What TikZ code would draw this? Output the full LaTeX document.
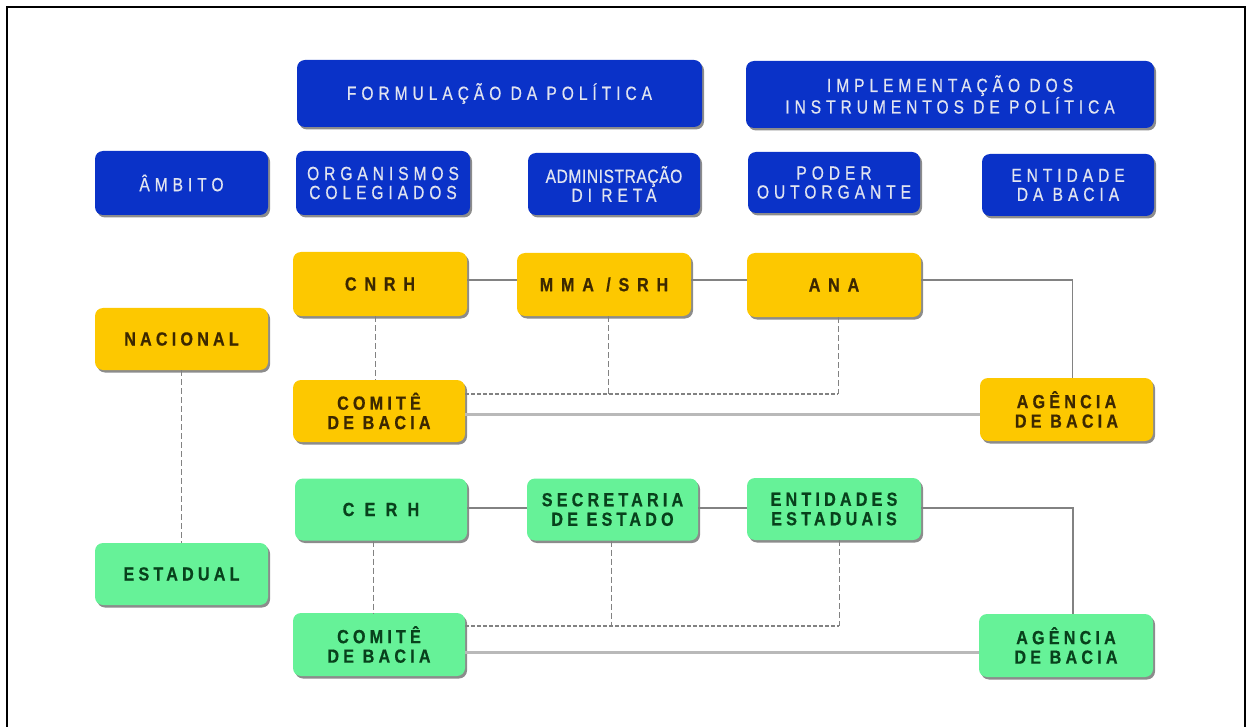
\documentclass[tikz,border=0pt]{standalone}
\usepackage{fontspec}
\setmainfont{Liberation Sans}
\newfontfamily\hdfont[LetterSpace=26,FakeStretch=0.82,FakeBold=0.6]{Liberation Sans}
\newfontfamily\lbfont[LetterSpace=22,FakeStretch=0.85,FakeBold=0.6]{Liberation Sans}
\newfontfamily\widefont[LetterSpace=41,FakeStretch=0.85,FakeBold=0.6]{Liberation Sans}
\newfontfamily\widerfont[LetterSpace=54,FakeStretch=0.85,FakeBold=0.6]{Liberation Sans}
\newfontfamily\admfont[LetterSpace=3,FakeStretch=0.82,FakeBold=0.6]{Liberation Sans}
\usetikzlibrary{shadows}

\definecolor{boxblue}{RGB}{10,50,200}
\definecolor{boxyellow}{RGB}{253,200,0}
\definecolor{boxgreen}{RGB}{102,242,152}
\definecolor{txtblue}{RGB}{225,228,240}
\definecolor{txtyellow}{RGB}{60,40,0}
\definecolor{txtgreen}{RGB}{8,65,28}
\definecolor{lnA}{RGB}{130,130,130}
\definecolor{lnB}{RGB}{185,185,185}

\tikzset{
  box/.style={rounded corners=8pt, inner sep=0pt, align=center,
    drop shadow={shadow xshift=2pt, shadow yshift=-2.5pt, opacity=0.45, fill=black}},
  sz/.style 2 args={minimum width=#1pt, minimum height=#2pt},
  bluebox/.style={box, fill=boxblue, text=txtblue, font=\hdfont\fontsize{19}{19}\selectfont},
  yelbox/.style={box, fill=boxyellow, text=txtyellow, font=\lbfont\bfseries\fontsize{19}{19.5}\selectfont},
  grnbox/.style={box, fill=boxgreen, text=txtgreen, font=\lbfont\bfseries\fontsize{19}{19.5}\selectfont},
  widelbl/.style={font=\widefont\bfseries\fontsize{19}{19.5}\selectfont},
  widerlbl/.style={font=\widerfont\bfseries\fontsize{19}{19.5}\selectfont},
  solidln/.style={draw=lnA, line width=1.3pt},
  dashln/.style={draw=lnA, line width=1pt, dash pattern=on 6pt off 3pt},
  dotln/.style={draw=lnA, line width=1.3pt, dash pattern=on 4pt off 2pt},
  baseln/.style={draw=lnB, line width=3pt},
}

\begin{document}
\begin{tikzpicture}[x=1pt, y=-1pt]
\useasboundingbox (0,0) rectangle (1250,727);
\draw[line width=2.5pt, black] (7,7) rectangle (1245,745);

% header boxes
\node[bluebox, sz={405}{67}] (form) at (499.5,93.5) {FORMULAÇÃO DA POLÍTICA};
\node[bluebox, sz={408}{67}] (impl) at (950,94.5) {IMPLEMENTAÇÃO DOS\\INSTRUMENTOS DE POLÍTICA};
\node[bluebox, sz={173}{64}] (ambito) at (181.5,183) {ÂMBITO};
\node[bluebox, sz={174}{64}] (org) at (383,183) {ORGANISMOS\\COLEGIADOS};
\node[bluebox, sz={172}{62}, font=\admfont\fontsize{19}{19}\selectfont] (adm) at (614,184) {ADMINISTRAÇÃO\\{\hdfont DI RETA}};
\node[bluebox, sz={172}{61}] (poder) at (834,182.5) {PODER\\OUTORGANTE};
\node[bluebox, sz={172}{62}] (entb) at (1068,185) {ENTIDADE\\DA BACIA};

% national (yellow)
\node[yelbox, widelbl, sz={174}{64}] (cnrh) at (380,284) {CNRH};
\node[yelbox, widelbl, sz={174}{63}] (mma) at (604,284.5) {MMA /SRH};
\node[yelbox, widelbl, sz={174}{64}] (ana) at (834,285) {ANA};
\node[yelbox, sz={173}{62}] (nac) at (181.5,339) {NACIONAL};
\node[yelbox, sz={172}{62}] (comY) at (379,411) {COMITÊ\\DE BACIA};
\node[yelbox, sz={173}{63}] (ageY) at (1066.5,409.5) {AGÊNCIA\\DE BACIA};

% state (green)
\node[grnbox, widerlbl, sz={172}{62}] (cerh) at (381,509.5) {CERH};
\node[grnbox, sz={171}{62}] (sec) at (612.5,509.5) {SECRETARIA\\DE ESTADO};
\node[grnbox, sz={174}{62}] (entE) at (834,509) {ENTIDADES\\ESTADUAIS};
\node[grnbox, sz={173}{62}] (est) at (181.5,574) {ESTADUAL};
\node[grnbox, sz={172}{63}] (comG) at (379,644.5) {COMITÊ\\DE BACIA};
\node[grnbox, sz={174}{63}] (ageG) at (1066,645.5) {AGÊNCIA\\DE BACIA};

% national connectors
\coordinate (rY) at ([yshift=4pt]cnrh.east);
\draw[solidln] (rY) -- (rY -| mma.west);
\draw[solidln] (rY -| mma.east) -- (rY -| ana.west);
\coordinate (aY) at ([xshift=6pt]ageY.north);
\draw[solidln] (rY -| ana.east) -| (aY);
\draw[dashln] ([xshift=-5pt]cnrh.south) -- ([xshift=-5pt]cnrh.south |- comY.north);
\coordinate (hY) at ([yshift=17pt]comY.east);
\coordinate (mY) at ([xshift=4pt]mma.south);
\coordinate (nY) at ([xshift=4pt]ana.south);
\draw[dotln] (hY) -- (hY -| nY);
\draw[dashln] (mY) -- (mY |- hY);
\draw[dashln] (nY) -- (nY |- hY);
\draw[baseln] ([yshift=-3pt]comY.east) -- ([yshift=-3pt]comY.east -| ageY.west);

\draw[dashln] (nac.south) -- (est.north);

% state connectors
\coordinate (rG) at ([yshift=1.5pt]cerh.east);
\draw[solidln] (rG) -- (rG -| sec.west);
\draw[solidln] (rG -| sec.east) -- (rG -| entE.west);
\coordinate (aG) at ([xshift=7pt]ageG.north);
\draw[solidln] (rG -| entE.east) -| (aG);
\draw[dashln] ([xshift=-8pt]cerh.south) -- ([xshift=-8pt]cerh.south |- comG.north);
\coordinate (hG) at ([yshift=18.5pt]comG.east);
\coordinate (mG) at ([xshift=-1.5pt]sec.south);
\coordinate (nG) at ([xshift=5pt]entE.south);
\draw[dotln] (hG) -- (hG -| nG);
\draw[dashln] (mG) -- (mG |- hG);
\draw[dashln] (nG) -- (nG |- hG);
\draw[baseln] ([yshift=-7.5pt]comG.east) -- ([yshift=-7.5pt]comG.east -| ageG.west);
\end{tikzpicture}
\end{document}
